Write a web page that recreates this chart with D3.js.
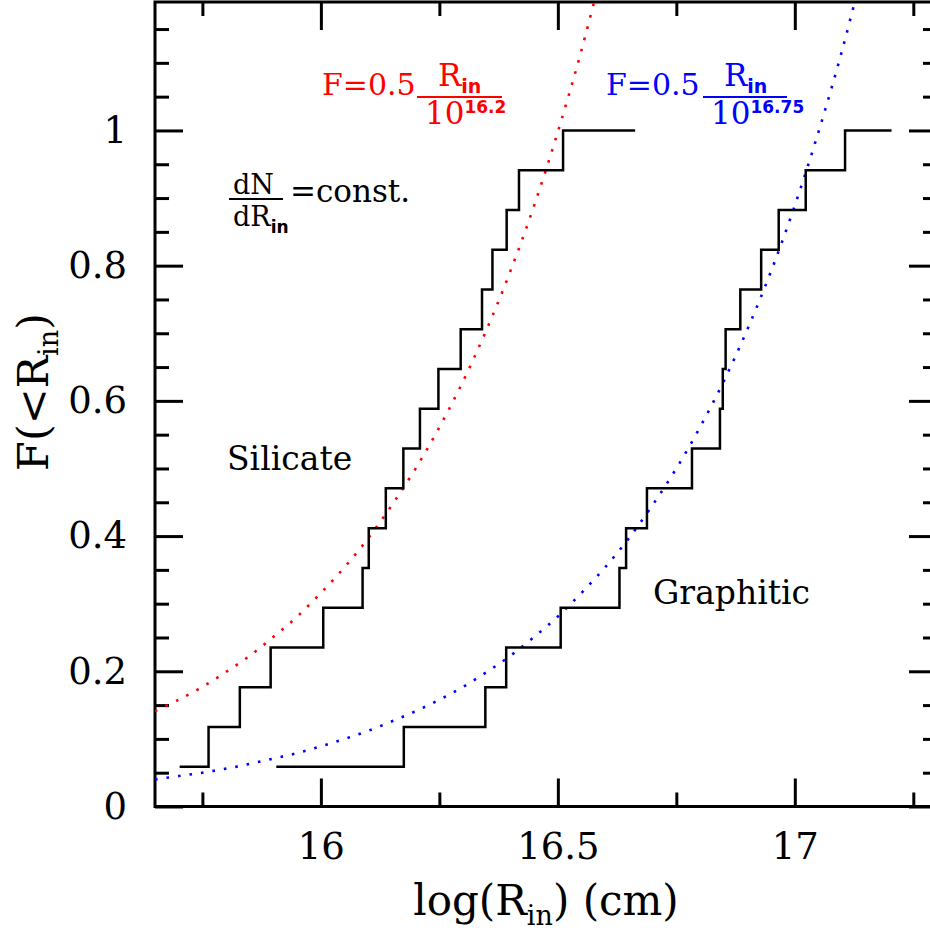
<!DOCTYPE html>
<html>
<head>
<meta charset="utf-8">
<script src="https://cdn.jsdelivr.net/npm/d3@7"></script>
<style>
  body { margin: 0; background: #fff; }
  svg { display: block; font-family: "DejaVu Serif", serif; }
</style>
</head>
<body>
<script>
// log(R_in) of each object, sorted
var silicateR = [15.702, 15.763, 15.829, 15.894, 16.005, 16.088, 16.101, 16.137, 16.174,
                 16.209, 16.248, 16.295, 16.340, 16.362, 16.392, 16.418, 16.511];
var silicateEnd = 16.663;
var graphiticR = [15.906, 16.175, 16.347, 16.391, 16.506, 16.630, 16.644, 16.688, 16.783,
                  16.842, 16.848, 16.854, 16.885, 16.929, 16.966, 17.023, 17.106];
var graphiticEnd = 17.204;

// dotted model curves
var modelX = [15.65, 15.70, 15.75, 15.80, 15.85, 15.90, 15.95, 16.00, 16.05, 16.10, 16.15,
              16.20, 16.25, 16.30, 16.35, 16.40, 16.45, 16.50, 16.55, 16.60, 16.65, 16.70,
              16.75, 16.80, 16.85, 16.90, 16.95, 17.00, 17.05, 17.10, 17.15];
var redF  = [0.141, 0.158, 0.177, 0.199, 0.223, 0.251, 0.281, 0.316, 0.354, 0.397, 0.446,
             0.500, 0.561, 0.629, 0.706, 0.792, 0.889, 0.998, 1.119, 1.256];
var blueF = [0.040, 0.045, 0.050, 0.056, 0.063, 0.071, 0.079, 0.089, 0.100, 0.112, 0.126,
             0.141, 0.158, 0.177, 0.199, 0.223, 0.251, 0.281, 0.316, 0.354, 0.397, 0.446,
             0.500, 0.561, 0.629, 0.706, 0.792, 0.889, 0.998, 1.119, 1.256];

var xMajor = [16, 16.5, 17];
var xLabels = ["16", "16.5", "17"];
var xMinor = [15.75, 16.25, 16.75, 17.25];
var yMajor = [0, 0.2, 0.4, 0.6, 0.8, 1];
var yLabels = ["0", "0.2", "0.4", "0.6", "0.8", "1"];
var yMinor = [0.05, 0.1, 0.15, 0.25, 0.3, 0.35, 0.45, 0.5, 0.55, 0.65, 0.7, 0.75,
              0.85, 0.9, 0.95, 1.05, 1.1, 1.15];

var W = 930, H = 934;
var pLeft = 155, pRight = 937, pTop = 2, pBottom = 806.5;

var x = d3.scaleLinear().domain([15.65, 17.3]).range([pLeft, pRight]);
var y = d3.scaleLinear().domain([0, 1.19]).range([pBottom, pTop]);

var svg = d3.select("body").append("svg")
    .attr("width", W)
    .attr("height", H);

svg.append("clipPath").attr("id", "plotclip")
  .append("rect")
    .attr("x", pLeft).attr("y", pTop)
    .attr("width", pRight - pLeft).attr("height", pBottom - pTop);

// axes: ticks point inward, majors long, minors short
function styleAxis(g) {
  g.select(".domain").remove();
  g.selectAll(".tick line").attr("stroke", "#000").attr("stroke-width", 3);
  g.selectAll(".tick text").attr("fill", "#000")
    .style("font-family", "DejaVu Serif, serif").style("font-size", "37px");
}

svg.append("g")
    .attr("transform", "translate(0," + pBottom + ")")
    .call(d3.axisBottom(x).tickValues(xMajor).tickSizeInner(-28).tickSizeOuter(0)
      .tickPadding(26).tickFormat(function(d, i) { return xLabels[i]; }))
    .call(styleAxis);
svg.append("g")
    .attr("transform", "translate(0," + pBottom + ")")
    .call(d3.axisBottom(x).tickValues(xMinor).tickSizeInner(-14).tickSizeOuter(0).tickFormat(""))
    .call(styleAxis);
svg.append("g")
    .attr("transform", "translate(0," + pTop + ")")
    .call(d3.axisTop(x).tickValues(xMajor).tickSizeInner(-28).tickSizeOuter(0).tickFormat(""))
    .call(styleAxis);
svg.append("g")
    .attr("transform", "translate(0," + pTop + ")")
    .call(d3.axisTop(x).tickValues(xMinor).tickSizeInner(-14).tickSizeOuter(0).tickFormat(""))
    .call(styleAxis);

svg.append("g")
    .attr("transform", "translate(" + pLeft + ",0)")
    .call(d3.axisLeft(y).tickValues(yMajor).tickSizeInner(-28).tickSizeOuter(0)
      .tickPadding(28).tickFormat(function(d, i) { return yLabels[i]; }))
    .call(styleAxis);
svg.append("g")
    .attr("transform", "translate(" + pLeft + ",0)")
    .call(d3.axisLeft(y).tickValues(yMinor).tickSizeInner(-14).tickSizeOuter(0).tickFormat(""))
    .call(styleAxis);
svg.append("g")
    .attr("transform", "translate(" + pRight + ",0)")
    .call(d3.axisRight(y).tickValues(yMajor).tickSizeInner(-28).tickSizeOuter(0).tickFormat(""))
    .call(styleAxis);
svg.append("g")
    .attr("transform", "translate(" + pRight + ",0)")
    .call(d3.axisRight(y).tickValues(yMinor).tickSizeInner(-14).tickSizeOuter(0).tickFormat(""))
    .call(styleAxis);

// frame
svg.append("rect")
    .attr("x", pLeft).attr("y", pTop)
    .attr("width", pRight - pLeft).attr("height", pBottom - pTop)
    .attr("fill", "none").attr("stroke", "#000").attr("stroke-width", 3);

var plot = svg.append("g").attr("clip-path", "url(#plotclip)");

// dotted model curves
var model = d3.line()
    .x(function(d) { return x(d[0]); })
    .y(function(d) { return y(d[1]); })
    .curve(d3.curveCatmullRom);

plot.append("path")
    .datum(redF.map(function(v, i) { return [modelX[i], v]; }))
    .attr("d", model)
    .attr("fill", "none").attr("stroke", "#ff0000")
    .attr("stroke-width", 2.6).attr("stroke-dasharray", "2.6 9");
plot.append("path")
    .datum(blueF.map(function(v, i) { return [modelX[i], v]; }))
    .attr("d", model)
    .attr("fill", "none").attr("stroke", "#0000ff")
    .attr("stroke-width", 2.6).attr("stroke-dasharray", "2.6 9");

// cumulative staircases
var step = d3.line()
    .x(function(d) { return x(d[0]); })
    .y(function(d) { return y(d[1]); })
    .curve(d3.curveStepAfter);

function cdf(vals, end) {
  var n = vals.length;
  var pts = vals.map(function(v, i) { return [v, (i + 1) / n]; });
  pts.push([end, 1]);
  return pts;
}

plot.append("path")
    .datum(cdf(silicateR, silicateEnd))
    .attr("d", step)
    .attr("fill", "none").attr("stroke", "#000").attr("stroke-width", 2.5);
plot.append("path")
    .datum(cdf(graphiticR, graphiticEnd))
    .attr("d", step)
    .attr("fill", "none").attr("stroke", "#000").attr("stroke-width", 2.5);

// axis titles
var xt = svg.append("text")
    .attr("x", 546).attr("y", 915)
    .attr("text-anchor", "middle")
    .style("font-size", "42px");
xt.append("tspan").text("log(R");
xt.append("tspan").attr("dy", 10).style("font-size", "27px").text("in");
xt.append("tspan").attr("dy", -10).text(") (cm)");

var yt = svg.append("text")
    .attr("transform", "translate(48,392) rotate(-90)")
    .attr("text-anchor", "middle")
    .style("font-size", "43px");
yt.append("tspan").text("F(<R");
yt.append("tspan").attr("dy", 10).style("font-size", "27px").text("in");
yt.append("tspan").attr("dy", -10).text(")");

// labels
svg.append("text").attr("x", 227).attr("y", 470).style("font-size", "33px").text("Silicate");
svg.append("text").attr("x", 653).attr("y", 604).style("font-size", "33px").text("Graphitic");

// dN/dR_in = const.
svg.append("text").attr("x", 233).attr("y", 194).style("font-size", "27px").text("dN");
svg.append("line").attr("x1", 229).attr("x2", 283).attr("y1", 199).attr("y2", 199)
    .attr("stroke", "#000").attr("stroke-width", 2);
var dr = svg.append("text").attr("x", 233).attr("y", 226).style("font-size", "27px");
dr.append("tspan").text("dR");
dr.append("tspan").attr("dy", 7).style("font-size", "17px")
    .style("font-family", "DejaVu Sans, sans-serif").style("font-weight", "bold").text("in");
svg.append("text").attr("x", 290).attr("y", 202).style("font-size", "31px").text("=const.");

// model formulas
function formula(x0, barX1, barX2, expo, color) {
  var g = svg.append("g").attr("fill", color);
  g.append("text").attr("x", x0).attr("y", 95).style("font-size", "30px").text("F=0.5");
  g.append("line").attr("x1", barX1).attr("x2", barX2).attr("y1", 97).attr("y2", 97)
      .attr("stroke", color).attr("stroke-width", 2.2);
  var num = g.append("text").attr("x", barX1 + 21).attr("y", 86).style("font-size", "31px");
  num.append("tspan").text("R");
  num.append("tspan").attr("dy", 7).style("font-size", "19px")
      .style("font-family", "DejaVu Sans, sans-serif").style("font-weight", "bold").text("in");
  var den = g.append("text").attr("x", barX1 + 8).attr("y", 124).style("font-size", "31px");
  den.append("tspan").text("10");
  den.append("tspan").attr("dy", -11).style("font-size", "17px")
      .style("font-family", "DejaVu Sans, sans-serif").style("font-weight", "bold").text(expo);
}
formula(322, 417, 502, "16.2", "#ff0000");
formula(606, 703, 787, "16.75", "#0000ff");
</script>
</body>
</html>
